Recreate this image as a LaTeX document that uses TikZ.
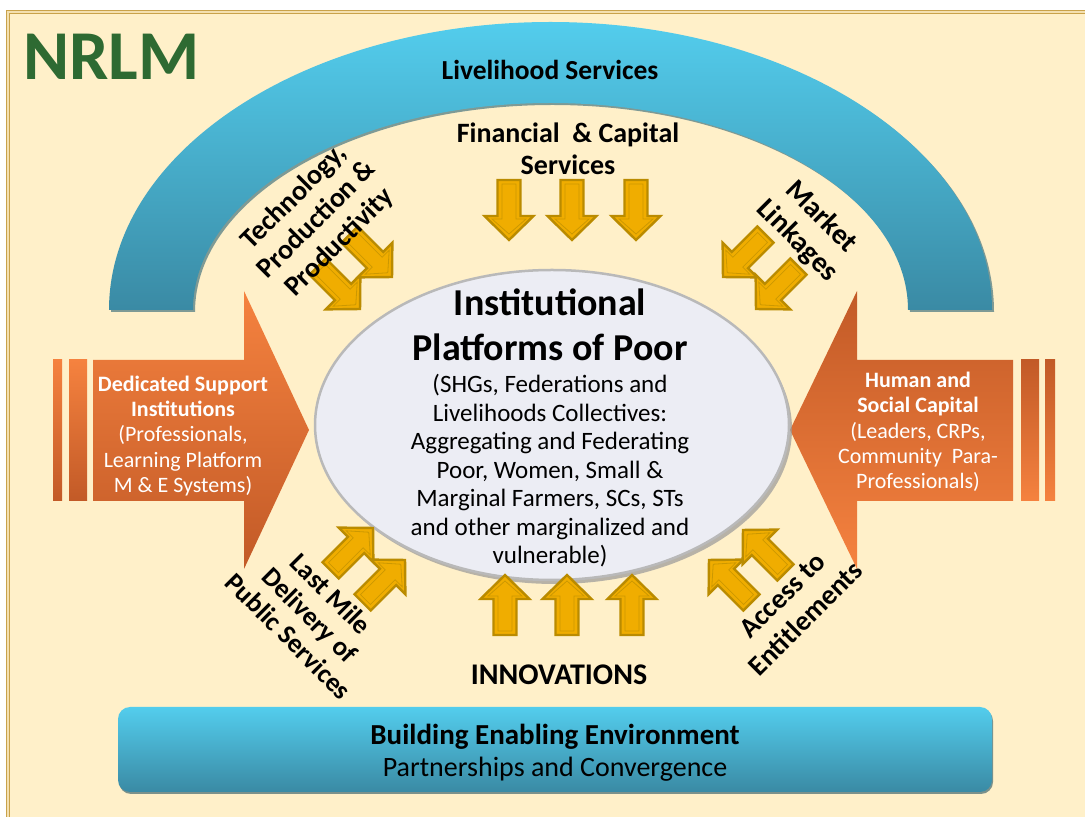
\documentclass[tikz,border=0pt]{standalone}
\usepackage{fontspec}
\setmainfont{Carlito}
\usetikzlibrary{shapes.geometric,shadows}
\definecolor{cream}{HTML}{FFF0C9}
\definecolor{gold}{HTML}{C9A24A}
\definecolor{cyanL}{HTML}{53CDED}
\definecolor{cyanD}{HTML}{3A8AA4}
\definecolor{orL}{HTML}{F5823F}
\definecolor{orD}{HTML}{C25A27}
\definecolor{yfill}{HTML}{F0AD00}
\definecolor{yline}{HTML}{BA8B00}
\definecolor{yinner}{HTML}{CC9800}
\definecolor{nrlmgreen}{HTML}{2E6A32}
\definecolor{corefill}{HTML}{ECEDF4}
\tikzset{
  blk/.style={text=black, align=center, inner sep=0pt},
  rlbl/.style={blk, font=\bfseries\fontsize{28}{32}\selectfont},
  wtxt/.style={text=white, align=center, inner sep=0pt, font=\fontsize{22}{25.3}\selectfont},
  yarrow/.pic={
    \fill[yfill] (0,-11.5) -- (36,-11.5) -- (36,-24.5) -- (60,0) -- (36,24.5) -- (36,11.5) -- (0,11.5) -- cycle;
    \draw[yline, line width=2.4pt, line join=miter] (0,-11.5) -- (36,-11.5) -- (36,-24.5) -- (60,0) -- (36,24.5) -- (36,11.5) -- (0,11.5) -- cycle;
    \draw[yinner, line width=0.8pt] (4,-7) -- (39,-7) -- (39,-17) -- (54,0) -- (39,17) -- (39,7) -- (4,7) -- cycle;
  }
}
\begin{document}
\begin{tikzpicture}[x=1pt,y=1pt]
\useasboundingbox (0,0) rectangle (1085,817);
\clip (0,0) rectangle (1085,817);
\fill[white] (0,0) rectangle (1085,817);
% frame
\fill[cream] (8,805) rectangle (1100,-10);
\draw[gold, line width=0.9pt, double=cream!80!gold, double distance=1.6pt] (8,805) rectangle (1100,-10);

% NRLM title
\node[anchor=west, inner sep=0pt, text=nrlmgreen, font=\bfseries\fontsize{70}{70}\selectfont] (nrlm) at (23,760) {NRLM};

% livelihood arc
\fill[cyanD!70!black, opacity=0.6] (111,505) arc[start angle=180,end angle=0,x radius=441.5,y radius=288] -- (910,505) arc[start angle=0,end angle=180,x radius=357.5,y radius=207] -- cycle;
\shade[top color=cyanL, bottom color=cyanD] (109,507) arc[start angle=180,end angle=0,x radius=441.5,y radius=288] -- (908,507) arc[start angle=0,end angle=180,x radius=357.5,y radius=207] -- cycle;
\node[blk, font=\bfseries\fontsize{27.5}{30}\selectfont] (livelihood) at (550,747) {Livelihood Services};

% left orange arrow
\shade[top color=orL, bottom color=orD] (53,316) rectangle (62,457);
\shade[top color=orL, bottom color=orD] (69,316) rectangle (87,457);
\shade[top color=orL, bottom color=orD] (93,457) -- (244,457) -- (244,526) -- (309,387) -- (244,248) -- (244,316) -- (93,316) -- cycle;
\node[wtxt] (dsi) at (183,381) {\textbf{Dedicated Support}\\\textbf{Institutions}\\(Professionals,\\Learning Platform\\M \& E Systems)};

% right orange arrow
\shade[top color=orD, bottom color=orL] (1021,316) rectangle (1039,457);
\shade[top color=orD, bottom color=orL] (1045,316) rectangle (1055,457);
\shade[top color=orD, bottom color=orL] (1013,457) -- (857,457) -- (857,526) -- (790,387) -- (857,248) -- (857,316) -- (1013,316) -- cycle;
\node[wtxt] (hsc) at (918,385) {\textbf{Human and}\\\textbf{Social Capital}\\(Leaders, CRPs,\\Community\ \ Para-\\Professionals)};

% core ellipse
\node[ellipse, minimum width=474pt, minimum height=310pt, inner sep=0pt, fill=corefill, draw=gray!55, line width=2.5pt,
      drop shadow={shadow xshift=3pt, shadow yshift=-4pt, fill=gray!80, opacity=0.7}] (core) at (552,392) {};
\node[blk, font=\bfseries\fontsize{38}{45}\selectfont] (coretitle) at (550,492) {Institutional\\Platforms of Poor};
\node[blk, font=\fontsize{25}{28.5}\selectfont] (corebody) at (550,346) {(SHGs, Federations and\\Livelihoods Collectives:\\Aggregating and Federating\\Poor, Women, Small \&\\Marginal Farmers, SCs, STs\\and other marginalized and\\vulnerable)};

% yellow block arrows
\pic[rotate=-90] at (509,637) {yarrow};
\pic[rotate=-90] at (572,637) {yarrow};
\pic[rotate=-90] at (636,637) {yarrow};
\pic[rotate=90] at (505,182) {yarrow};
\pic[rotate=90] at (567,182) {yarrow};
\pic[rotate=90] at (632,182) {yarrow};
\pic[rotate=-45] at (317.6,550.4) {yarrow};
\pic[rotate=-45] at (349.6,582.4) {yarrow};
\pic[rotate=-135] at (765.4,582.4) {yarrow};
\pic[rotate=-135] at (798.4,550.4) {yarrow};
\pic[rotate=45] at (330.6,246.6) {yarrow};
\pic[rotate=45] at (362.6,214.6) {yarrow};
\pic[rotate=135] at (751.4,214.6) {yarrow};
\pic[rotate=135] at (785.4,244.6) {yarrow};

% labels
\node[blk, font=\bfseries\fontsize{28}{32}\selectfont] (fin) at (568,668) {Financial\ \ \& Capital\\Services};
\node[blk, font=\bfseries\fontsize{30}{30}\selectfont] (innov) at (559,142) {INNOVATIONS};
\node[rlbl, rotate=45] (tech) at (317,597) {Technology,\\Production \&\\Productivity};
\node[rlbl, rotate=-45, font=\bfseries\fontsize{29}{34}\selectfont] (market) at (809,588) {Market\\Linkages};
\node[rlbl, rotate=-45, font=\bfseries\fontsize{27}{30}\selectfont] (lastmile) at (310,202) {Last Mile\\Delivery of\\Public Services};
\node[rlbl, rotate=45, font=\bfseries\fontsize{28}{33}\selectfont] (access) at (794,210) {Access to\\Entitlements};

% bottom box
\node[rectangle, rounded corners=12pt, minimum width=874pt, minimum height=85pt, inner sep=0pt,
      top color=cyanL, bottom color=cyanD,
      drop shadow={shadow xshift=1pt, shadow yshift=-2pt, fill=cyanD!60!black, opacity=0.6}] (env) at (555,67.5) {};
\node[blk, font=\bfseries\fontsize{29}{30}\selectfont] (envtitle) at (555,80) {Building Enabling Environment};
\node[blk, font=\fontsize{28}{30}\selectfont] (envsub) at (555,48) {Partnerships and Convergence};
\end{tikzpicture}
\end{document}
